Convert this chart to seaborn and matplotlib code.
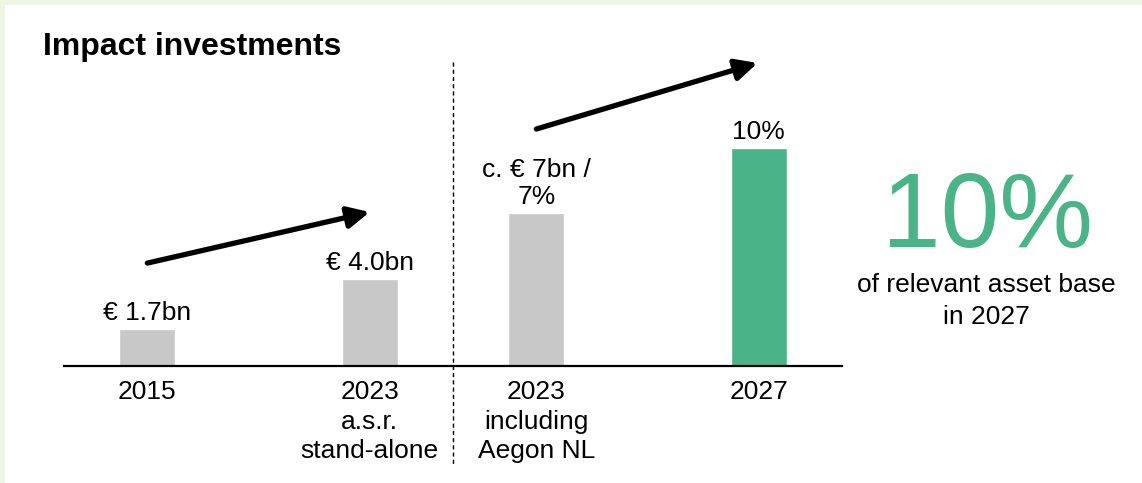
import matplotlib
matplotlib.use("Agg")
import matplotlib.pyplot as plt
import seaborn as sns
from matplotlib.patches import Rectangle
from matplotlib.lines import Line2D

# ==============================
# Data
# ==============================
categories = ["2015", "2023\na.s.r.\nstand-alone", "2023\nincluding\nAegon NL", "2027"]
values = [1.7, 4.0, 7.0, 10.0]
bar_labels = ["€ 1.7bn", "€ 4.0bn", "c. € 7bn /\n7%", "10%"]
bar_colors = ["#C8C8C8", "#C8C8C8", "#C8C8C8", "#4BB388"]
title = "Impact investments"
big_number = "10%"
big_caption = "of relevant asset base\nin 2027"

# ==============================
# Style
# ==============================
sns.set_theme(style="white")
plt.rcParams["font.family"] = ["Liberation Sans", "DejaVu Sans"]
GREEN = "#4BB388"

fig = plt.figure(figsize=(11.42, 4.83), dpi=100)
fig.patch.set_facecolor("#EEF5E3")
W, H = 1142, 483
fig.patches.append(Rectangle((5 / W, 0), 1, 1 - 5 / H, transform=fig.transFigure,
                             facecolor="white", edgecolor="none", zorder=-5))

bottom = (H - 366) / H
height = 15 * 21.8 / H
axw = 389 / W
ax_left = fig.add_axes([64 / W, bottom, axw, height])
ax_right = fig.add_axes([453 / W, bottom, axw, height])

groups = [(ax_left, slice(0, 2)), (ax_right, slice(2, 4))]
for ax, sl in groups:
    cats = categories[sl]
    sns.barplot(x=cats, y=values[sl], hue=cats, palette=bar_colors[sl],
                width=0.252, legend=False, ax=ax, saturation=1)
    for cont, lab in zip(ax.containers, bar_labels[sl]):
        ax.bar_label(cont, labels=[lab], padding=3, fontsize=19, color="black",
                     linespacing=1.15)
    ax.set_xlim(-0.375, 1.375)
    ax.set_ylim(0, 15)
    ax.patch.set_alpha(0)
    for s in ["left", "right", "top"]:
        ax.spines[s].set_visible(False)
    ax.spines["bottom"].set_color("black")
    ax.spines["bottom"].set_linewidth(1.6)
    ax.set_yticks([])
    ax.set_xlabel("")
    ax.set_ylabel("")
    ax.tick_params(axis="x", length=0, pad=10)
    ax.set_xticks(range(len(cats)))
    ax.set_xticklabels(cats, fontsize=19, color="black", linespacing=1.3)

# growth arrows
arrow_kw = dict(arrowstyle="-|>,head_length=0.65,head_width=0.32", lw=3.8,
                color="black", mutation_scale=20, shrinkA=0, shrinkB=0)
ax_left.annotate("", xy=(1.0, 7.06), xytext=(0.0, 4.72), arrowprops=arrow_kw,
                 annotation_clip=False)
ax_right.annotate("", xy=(0.995, 13.9), xytext=(0.0, 10.87), arrowprops=arrow_kw,
                  annotation_clip=False)

# dashed separator
fig.lines.append(Line2D([453 / W, 453 / W], [1 - 62 / H, 1 - 465 / H],
                        transform=fig.transFigure, color="black", lw=1,
                        linestyle=(0, (3, 2.2))))

fig.text(43 / W, 1 - 55 / H, title, fontsize=23, fontweight="bold",
         va="baseline", ha="left", color="black")
fig.text(988 / W, 1 - 247 / H, big_number, fontsize=76, color=GREEN,
         va="baseline", ha="center")
fig.text(986 / W, 1 - 324 / H, big_caption, fontsize=19, color="black",
         va="baseline", ha="center", linespacing=1.4)

fig.savefig("out.png", dpi=100)
